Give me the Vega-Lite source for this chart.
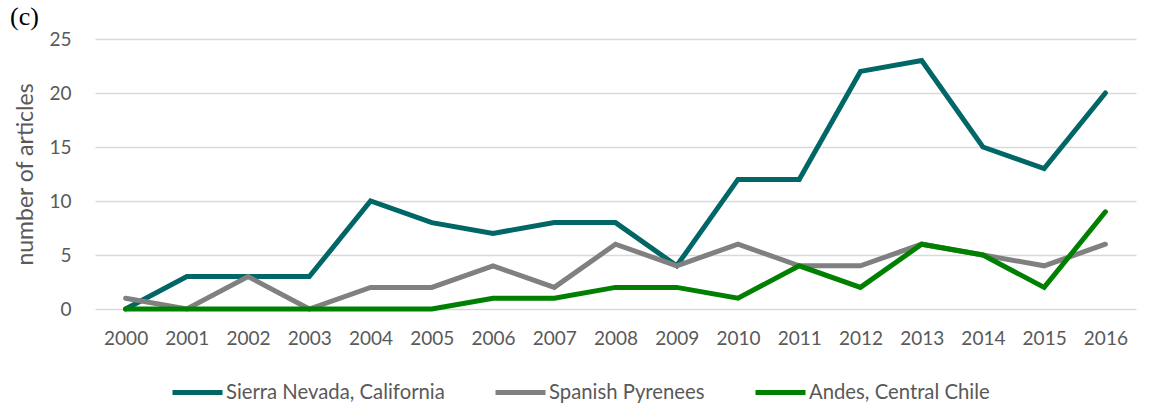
{
  "$schema": "https://vega.github.io/schema/vega-lite/v6.json",
  "width": 1041,
  "height": 270,
  "autosize": "none",
  "padding": {"left": 95, "top": 39, "right": 23, "bottom": 94},
  "background": "white",
  "title": {
    "text": "(c)",
    "anchor": "start",
    "frame": "group",
    "dx": -85,
    "offset": 0,
    "font": "Liberation Serif",
    "fontSize": 26,
    "fontWeight": "normal",
    "color": "black"
  },
  "data": {
    "values": [
      {"year": "2000", "region": "Sierra Nevada, California", "n": 0},
      {"year": "2001", "region": "Sierra Nevada, California", "n": 3},
      {"year": "2002", "region": "Sierra Nevada, California", "n": 3},
      {"year": "2003", "region": "Sierra Nevada, California", "n": 3},
      {"year": "2004", "region": "Sierra Nevada, California", "n": 10},
      {"year": "2005", "region": "Sierra Nevada, California", "n": 8},
      {"year": "2006", "region": "Sierra Nevada, California", "n": 7},
      {"year": "2007", "region": "Sierra Nevada, California", "n": 8},
      {"year": "2008", "region": "Sierra Nevada, California", "n": 8},
      {"year": "2009", "region": "Sierra Nevada, California", "n": 4},
      {"year": "2010", "region": "Sierra Nevada, California", "n": 12},
      {"year": "2011", "region": "Sierra Nevada, California", "n": 12},
      {"year": "2012", "region": "Sierra Nevada, California", "n": 22},
      {"year": "2013", "region": "Sierra Nevada, California", "n": 23},
      {"year": "2014", "region": "Sierra Nevada, California", "n": 15},
      {"year": "2015", "region": "Sierra Nevada, California", "n": 13},
      {"year": "2016", "region": "Sierra Nevada, California", "n": 20},
      {"year": "2000", "region": "Spanish Pyrenees", "n": 1},
      {"year": "2001", "region": "Spanish Pyrenees", "n": 0},
      {"year": "2002", "region": "Spanish Pyrenees", "n": 3},
      {"year": "2003", "region": "Spanish Pyrenees", "n": 0},
      {"year": "2004", "region": "Spanish Pyrenees", "n": 2},
      {"year": "2005", "region": "Spanish Pyrenees", "n": 2},
      {"year": "2006", "region": "Spanish Pyrenees", "n": 4},
      {"year": "2007", "region": "Spanish Pyrenees", "n": 2},
      {"year": "2008", "region": "Spanish Pyrenees", "n": 6},
      {"year": "2009", "region": "Spanish Pyrenees", "n": 4},
      {"year": "2010", "region": "Spanish Pyrenees", "n": 6},
      {"year": "2011", "region": "Spanish Pyrenees", "n": 4},
      {"year": "2012", "region": "Spanish Pyrenees", "n": 4},
      {"year": "2013", "region": "Spanish Pyrenees", "n": 6},
      {"year": "2014", "region": "Spanish Pyrenees", "n": 5},
      {"year": "2015", "region": "Spanish Pyrenees", "n": 4},
      {"year": "2016", "region": "Spanish Pyrenees", "n": 6},
      {"year": "2000", "region": "Andes, Central Chile", "n": 0},
      {"year": "2001", "region": "Andes, Central Chile", "n": 0},
      {"year": "2002", "region": "Andes, Central Chile", "n": 0},
      {"year": "2003", "region": "Andes, Central Chile", "n": 0},
      {"year": "2004", "region": "Andes, Central Chile", "n": 0},
      {"year": "2005", "region": "Andes, Central Chile", "n": 0},
      {"year": "2006", "region": "Andes, Central Chile", "n": 1},
      {"year": "2007", "region": "Andes, Central Chile", "n": 1},
      {"year": "2008", "region": "Andes, Central Chile", "n": 2},
      {"year": "2009", "region": "Andes, Central Chile", "n": 2},
      {"year": "2010", "region": "Andes, Central Chile", "n": 1},
      {"year": "2011", "region": "Andes, Central Chile", "n": 4},
      {"year": "2012", "region": "Andes, Central Chile", "n": 2},
      {"year": "2013", "region": "Andes, Central Chile", "n": 6},
      {"year": "2014", "region": "Andes, Central Chile", "n": 5},
      {"year": "2015", "region": "Andes, Central Chile", "n": 2},
      {"year": "2016", "region": "Andes, Central Chile", "n": 9}
    ]
  },
  "mark": {"type": "line", "strokeWidth": 5, "strokeJoin": "miter", "strokeCap": "round"},
  "encoding": {
    "x": {
      "field": "year",
      "type": "ordinal",
      "scale": {"type": "point", "padding": 0.5},
      "axis": {
        "title": null,
        "labelAngle": 0,
        "domain": false,
        "ticks": false,
        "grid": false,
        "labelPadding": 20,
        "labelFont": "Lato",
        "labelFontSize": 19,
        "labelColor": "#595959"
      }
    },
    "y": {
      "field": "n",
      "type": "quantitative",
      "scale": {"domain": [0, 25], "nice": false},
      "axis": {
        "title": "number of articles",
        "values": [0, 5, 10, 15, 20, 25],
        "domain": false,
        "ticks": false,
        "grid": true,
        "gridColor": "#d9d9d9",
        "gridWidth": 1.5,
        "labelPadding": 24,
        "labelFont": "Lato",
        "labelFontSize": 19,
        "labelColor": "#595959",
        "titleFont": "Lato",
        "titleFontSize": 23,
        "titleFontWeight": "normal",
        "titleColor": "#595959",
        "titlePadding": 11
      }
    },
    "color": {
      "field": "region",
      "type": "nominal",
      "scale": {
        "domain": ["Sierra Nevada, California", "Spanish Pyrenees", "Andes, Central Chile"],
        "range": ["#006666", "#808080", "#008000"]
      },
      "legend": {
        "title": null,
        "orient": "none",
        "direction": "horizontal",
        "legendX": 75,
        "legendY": 326,
        "symbolType": "stroke",
        "symbolSize": 2500,
        "symbolStrokeWidth": 5,
        "labelFont": "Lato",
        "labelFontSize": 20.3,
        "labelColor": "#595959",
        "labelOffset": 1,
        "labelLimit": 0,
        "columnPadding": 40
      }
    }
  },
  "config": {"view": {"stroke": null}}
}
